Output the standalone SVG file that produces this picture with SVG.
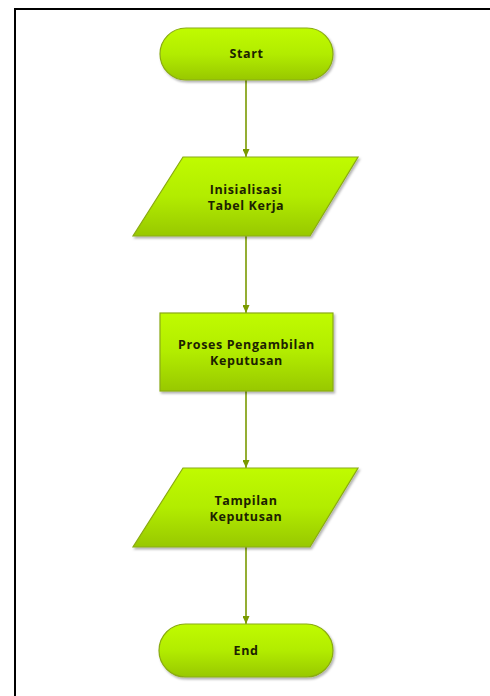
<svg xmlns="http://www.w3.org/2000/svg" width="490" height="696" viewBox="0 0 490 696">
<style>
.shape{fill:url(#g);stroke:#8aab12;stroke-width:1.2}
.lbl{font-family:"Open Sans","DejaVu Sans",sans-serif;font-weight:bold;font-size:12.5px;letter-spacing:0.6px;fill:#1c2200;text-anchor:middle}
.conn{stroke:#7a9a01;stroke-width:1.6;fill:none}
</style>
<defs>
<linearGradient id="g" x1="0" y1="0" x2="0" y2="1">
<stop offset="0" stop-color="#c0fb00"/>
<stop offset="0.5" stop-color="#b2ec00"/>
<stop offset="1" stop-color="#98c800"/>
</linearGradient>
<filter id="sh" x="-10%" y="-10%" width="130%" height="140%">
<feDropShadow dx="1.5" dy="2" stdDeviation="1.2" flood-color="#000" flood-opacity="0.3"/>
</filter>
<marker id="ah" markerWidth="9" markerHeight="7" refX="8" refY="3.5" orient="auto" markerUnits="userSpaceOnUse">
<path d="M0,0 L8,3.5 L0,7 Z" fill="#7a9a01"/>
</marker>
</defs>
<rect x="0" y="0" width="490" height="696" fill="#fff"/>
<rect x="15" y="9" width="490" height="700" fill="none" stroke="#000" stroke-width="2"/>
<g id="connectors">
<line class="conn" x1="246" y1="80" x2="246" y2="157" marker-end="url(#ah)"/>
<line class="conn" x1="246" y1="236" x2="246" y2="313" marker-end="url(#ah)"/>
<line class="conn" x1="246" y1="391" x2="246" y2="468" marker-end="url(#ah)"/>
<line class="conn" x1="246" y1="547" x2="246" y2="624" marker-end="url(#ah)"/>
</g>
<g id="start">
<rect class="shape" filter="url(#sh)" x="160" y="28" width="173" height="52" rx="26" ry="26"/>
<text class="lbl" x="246.5" y="58">Start</text>
</g>
<g id="init">
<polygon class="shape" filter="url(#sh)" points="183,157 358,157 310,236 133,236"/>
<text class="lbl" x="246" y="194">Inisialisasi</text>
<text class="lbl" x="246" y="210">Tabel Kerja</text>
</g>
<g id="proses">
<rect class="shape" filter="url(#sh)" x="160" y="313" width="173" height="78"/>
<text class="lbl" x="246.5" y="349">Proses Pengambilan</text>
<text class="lbl" x="246.5" y="365">Keputusan</text>
</g>
<g id="tampilan">
<polygon class="shape" filter="url(#sh)" points="183,468 358,468 310,547 133,547"/>
<text class="lbl" x="246" y="505">Tampilan</text>
<text class="lbl" x="246" y="521">Keputusan</text>
</g>
<g id="end">
<rect class="shape" filter="url(#sh)" x="159" y="624" width="174" height="53" rx="26.5" ry="26.5"/>
<text class="lbl" x="246" y="655">End</text>
</g>
</svg>
